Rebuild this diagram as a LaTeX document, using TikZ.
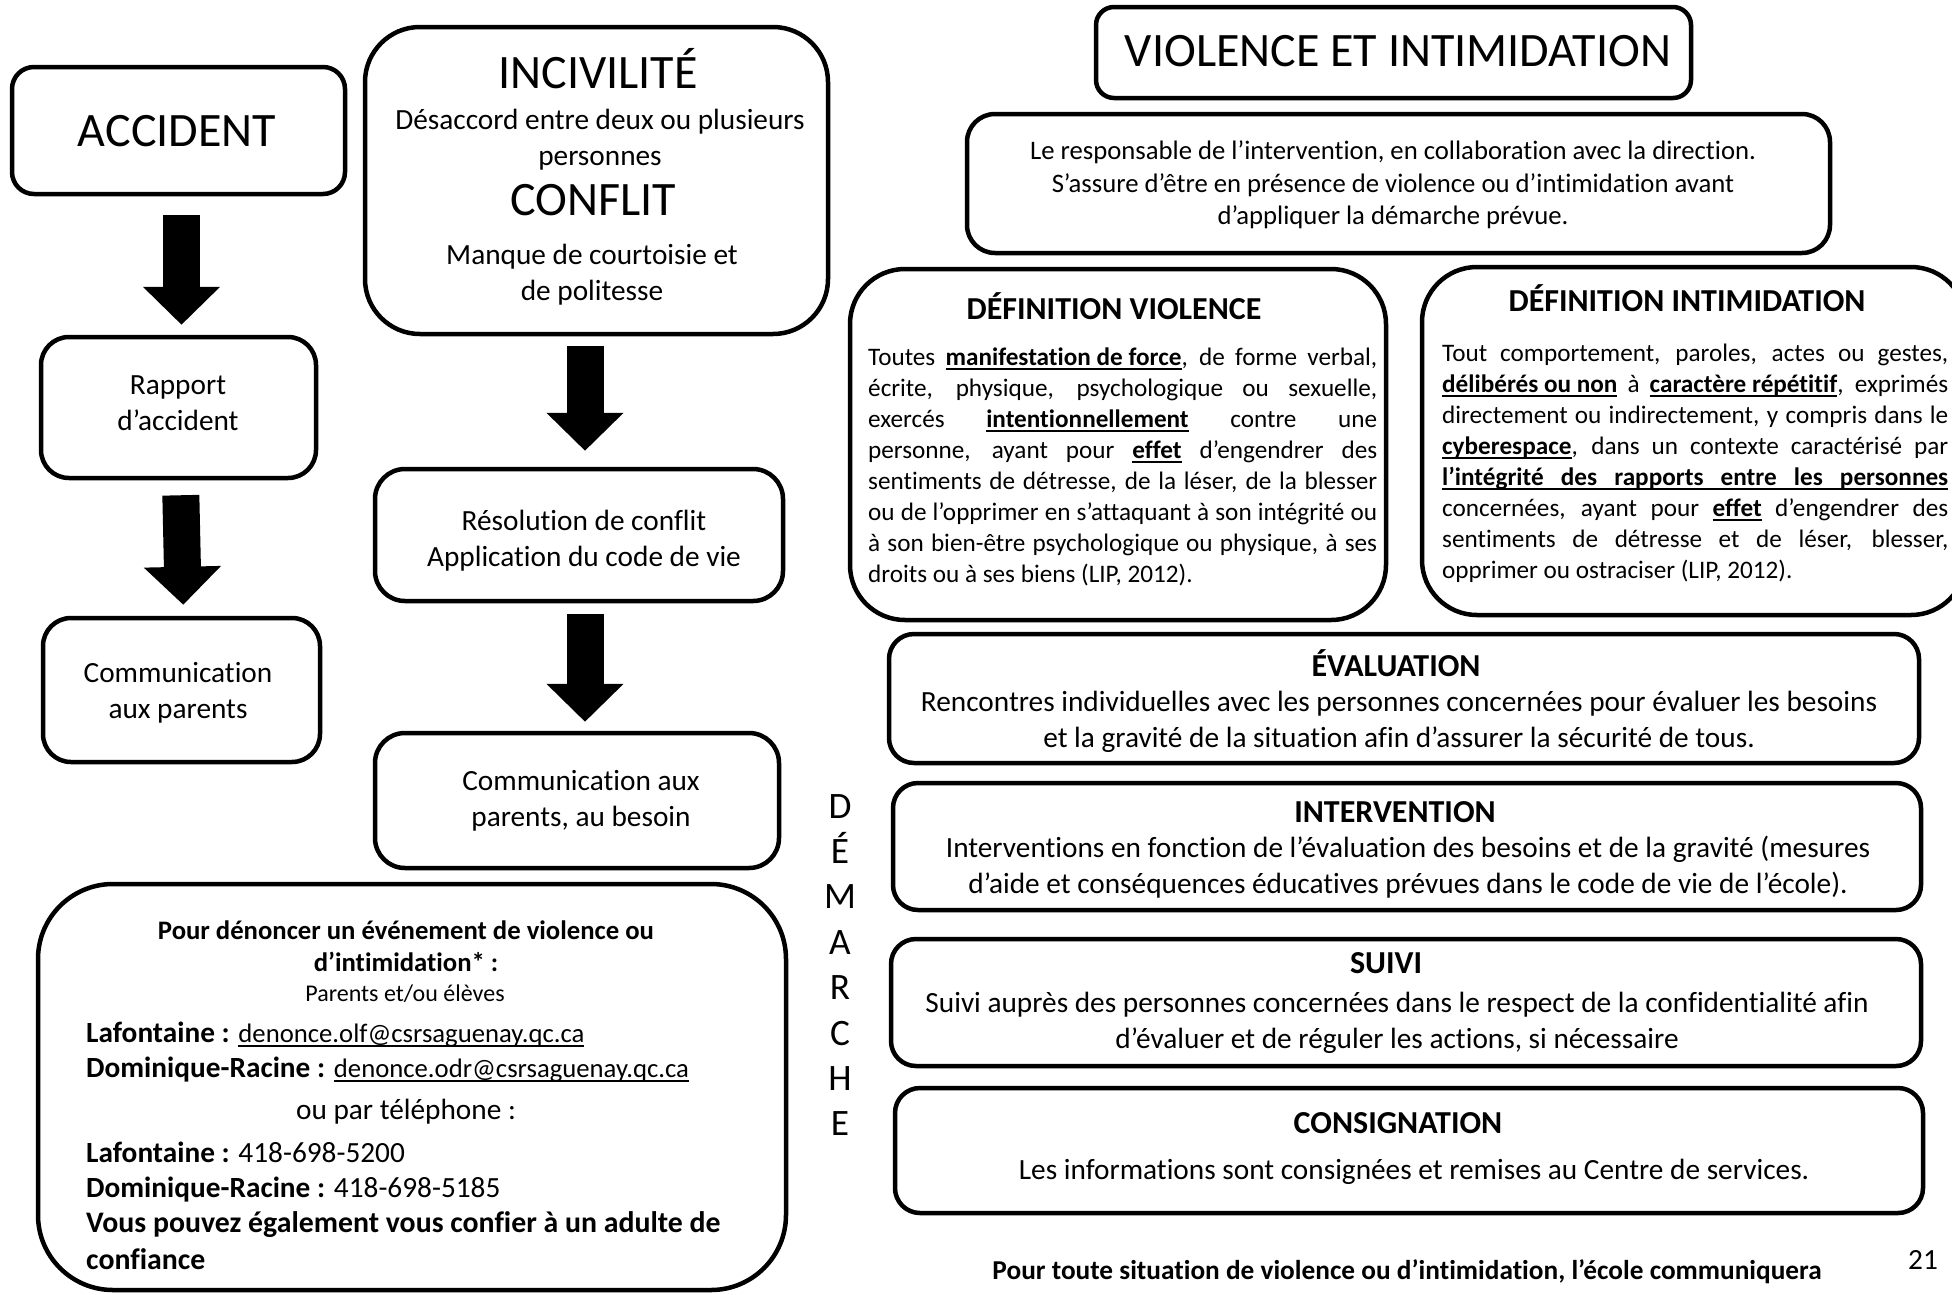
\documentclass[tikz,border=0pt]{standalone}
\usepackage{fontspec}
\setmainfont{Carlito}[Ligatures=NoCommon]
\usetikzlibrary{arrows.meta}
\newcommand\myszA{\fontsize{29.3}{36.3}\selectfont}
\newcommand\myszB{\fontsize{26.7}{32.5}\selectfont}
\newcommand\myszT{\fontsize{48}{58.5}\selectfont}
\newcommand\myszH{\fontsize{32}{39}\selectfont}
\newcommand\myszS{\fontsize{24}{29.3}\selectfont}
\newcommand\myszD{\fontsize{25.2}{31}\selectfont}
\newcommand\myszM{\fontsize{37.3}{45.4}\selectfont}
\newcommand\myszF{\fontsize{27.3}{33}\selectfont}
\newcommand\myul[1]{\setbox0\hbox{#1}\rlap{\rule[-4.5pt]{\wd0}{2pt}}\box0\relax}
\newcommand\rbox[6]{\node[boxst, rounded corners=#6pt, minimum width={#4-#2}, minimum height={#5-#3}] (#1) at ({(#2+#4)/2},{(#3+#5)/2}) {};}
\begin{document}
\begin{tikzpicture}[x=1pt,y=-1pt,
  boxst/.style={draw=black, line width=4.5pt, inner sep=0pt, shape=rectangle},
  txt/.style={inner sep=0pt, align=center},
  bigarrow/.style={draw=black, line width=37pt, -{Triangle[width=75pt,length=38pt]}}]
\useasboundingbox (0,0) rectangle (1952,1294);
\clip (0,0) rectangle (1952,1294);
\fill[white] (0,0) rectangle (1952,1294);
% ---------- left column boxes
\rbox{acc}{12}{67}{345}{194}{22}
\rbox{rap}{41}{337}{316}{478}{28}
\rbox{comL}{43}{618}{320}{762}{28}
\rbox{inc}{365}{27}{828}{334}{55}
\rbox{res}{375}{469}{783}{601}{30}
\rbox{comR}{375}{733}{779}{868}{30}
\rbox{den}{38}{884}{786}{1290}{75}
% ---------- right column boxes
\rbox{vi}{1096}{7}{1691}{98}{18}
\rbox{resp}{967}{114}{1830}{253}{28}
\rbox{dv}{850}{269}{1386}{620}{55}
\rbox{di}{1422}{267}{1966}{615}{55}
\rbox{ev}{889}{634}{1919}{763}{25}
\rbox{int}{893}{783}{1921}{910}{25}
\rbox{sui}{891}{939}{1921}{1066}{25}
\rbox{cons}{895}{1088}{1923}{1213}{25}
% ---------- arrows
\draw[bigarrow, shorten <=19pt, shorten >=10pt] ([xshift=3pt]acc.south) -- ([xshift=3pt]rap.north);
\draw[bigarrow, shorten <=15pt, shorten >=11pt] ([xshift=2pt]rap.south) -- ([xshift=2pt]comL.north);
\draw[bigarrow, shorten <=10pt, shorten >=16pt] ([xshift=6pt]inc.south -| res.north) -- ([xshift=6pt]res.north);
\draw[bigarrow, shorten <=11pt, shorten >=9pt] ([xshift=6pt]res.south) -- ([xshift=6pt]res.south |- comR.north);
% ---------- left texts
\node[txt, font=\myszT] (tAcc) at (177,131) {ACCIDENT};
\node[txt, font=\myszA] (tRap) at (178,403) {Rapport\\d’accident};
\node[txt, font=\myszA] (tCom) at (178,693) {Communication\\aux parents};
\node[txt, font=\myszT] (tInc) at (598,69) {INCIVILITÉ};
\node[txt, font=\myszA] (tDes) at (600,140) {Désaccord entre deux ou plusieurs\\personnes};
\node[txt, font=\myszT] (tConf) at (593,200) {CONFLIT};
\node[txt, font=\myszA] (tMan) at (592,275) {Manque de courtoisie et\\de politesse};
\node[txt, font=\myszA] (tRes) at (584,541) {Résolution de conflit\\Application du code de vie};
\node[txt, font=\myszA] (tComR) at (581,801) {Communication aux\\parents, au besoin};
% ---------- denoncer
\node[txt, font=\myszB\bfseries] (d0) at (406,946) {Pour dénoncer un événement de violence ou\\d’intimidation* :};
\node[txt, font=\myszS] (d1) at (405,994) {Parents et/ou élèves};
\node[inner sep=0pt, anchor=west, font=\myszA] (d2) at (86,1034) {\textbf{Lafontaine :} {\myszB\myul{denonce.olf@csrsaguenay.qc.ca}}};
\node[inner sep=0pt, anchor=west, font=\myszA] (d3) at (86,1070) {\textbf{Dominique-Racine :} {\myszB\myul{denonce.odr@csrsaguenay.qc.ca}}};
\node[txt, font=\myszA] (d4) at (406,1112) {ou par téléphone :};
\node[inner sep=0pt, anchor=west, font=\myszA] (d5) at (86,1152) {\textbf{Lafontaine :} 418-698-5200};
\node[inner sep=0pt, anchor=west, font=\myszA] (d6) at (86,1190) {\textbf{Dominique-Racine :} 418-698-5185};
\node[inner sep=0pt, anchor=west, font=\fontsize{29.8}{36}\selectfont\bfseries] (d7) at (86,1225) {Vous pouvez également vous confier à un adulte de};
\node[inner sep=0pt, anchor=west, font=\fontsize{29.8}{36}\selectfont\bfseries] (d8) at (86,1259) {confiance};
% ---------- DEMARCHE
\node[txt, font=\myszM] (dem) at (840,965) {D\\É\\M\\A\\R\\C\\H\\E};
% ---------- right texts
\node[txt, font=\myszT] (tVI) at (1398,51) {VIOLENCE ET INTIMIDATION};
\node[txt, font=\myszB] (tResp) at (1393,185) {Le responsable de l’intervention, en collaboration avec la direction.\\S’assure d’être en présence de violence ou d’intimidation avant\\d’appliquer la démarche prévue.};
\node[txt, font=\myszH\bfseries] (tDV) at (1114,306) {DÉFINITION VIOLENCE};
\node[inner sep=0pt, anchor=north west, text width=509pt, align=justify, font=\myszD] (pDV) at (868,344) {\tolerance=10000\hyphenpenalty=10000\strut
Toutes \myul{\textbf{manifestation de force}}, de forme verbal,\linebreak
écrite, physique, psychologique ou sexuelle,\linebreak
exercés \myul{\textbf{intentionnellement}} contre une\linebreak
personne, ayant pour \myul{\textbf{effet}} d’engendrer des\linebreak
sentiments de détresse, de la léser, de la blesser\linebreak
ou de l’opprimer en s’attaquant à son intégrité ou\linebreak
à son bien-être psychologique ou physique, à ses\linebreak
droits ou à ses biens (LIP, 2012).};
\node[txt, font=\myszH\bfseries] (tDI) at (1687,298) {DÉFINITION INTIMIDATION};
\node[inner sep=0pt, anchor=north west, text width=506pt, align=justify, font=\myszD] (pDI) at (1442,340) {\tolerance=10000\hyphenpenalty=10000\strut
Tout comportement, paroles, actes ou gestes,\linebreak
\myul{\textbf{délibérés ou non}} à \myul{\textbf{caractère répétitif}}, exprimés\linebreak
directement ou indirectement, y compris dans le\linebreak
\myul{\textbf{cyberespace}}, dans un contexte caractérisé par\linebreak
\myul{\makebox[506pt][s]{\textbf{l’intégrité des rapports entre les personnes}}}\linebreak
concernées, ayant pour \myul{\textbf{effet}} d’engendrer des\linebreak
sentiments de détresse et de léser, blesser,\linebreak
opprimer ou ostraciser (LIP, 2012).};
\node[txt, font=\myszH\bfseries] (tEv) at (1396,663) {ÉVALUATION};
\node[txt, font=\myszA] (bEv) at (1399,722) {Rencontres individuelles avec les personnes concernées pour évaluer les besoins\\et la gravité de la situation afin d’assurer la sécurité de tous.};
\node[txt, font=\myszH\bfseries] (tInt) at (1395,812) {INTERVENTION};
\node[txt, font=\myszA] (bInt) at (1408,867) {Interventions en fonction de l’évaluation des besoins et de la gravité (mesures\\d’aide et conséquences éducatives prévues dans le code de vie de l’école).};
\node[txt, font=\myszH\bfseries] (tSui) at (1386,963) {SUIVI};
\node[txt, font=\myszA] (bSui) at (1397,1023) {Suivi auprès des personnes concernées dans le respect de la confidentialité afin\\d’évaluer et de réguler les actions, si nécessaire};
\node[txt, font=\myszH\bfseries] (tCons) at (1398,1123) {CONSIGNATION};
\node[txt, font=\myszA] (bCons) at (1414,1172) {Les informations sont consignées et remises au Centre de services.};
\node[txt, font=\myszF\bfseries] (foot) at (1407,1272) {Pour toute situation de violence ou d’intimidation, l’école communiquera};
\node[txt, font=\myszA] (pg) at (1923,1260) {21};
\end{tikzpicture}
\end{document}
